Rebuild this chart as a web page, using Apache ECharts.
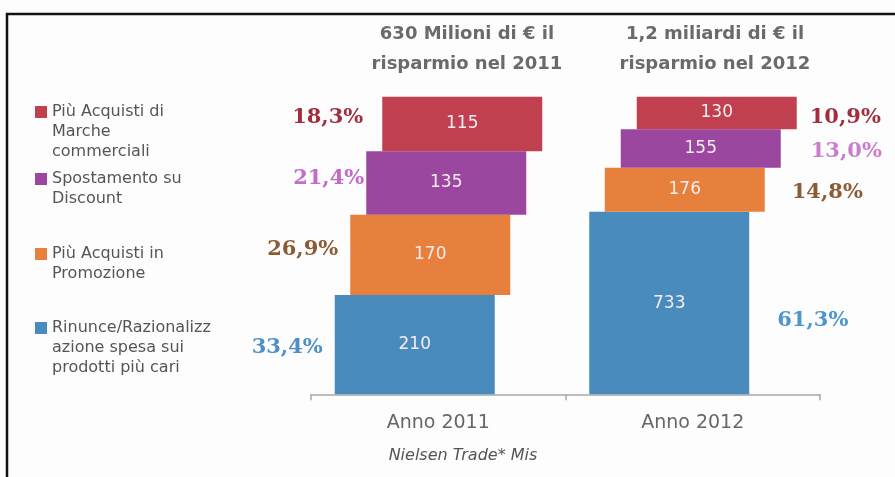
<!DOCTYPE html>
<html>
<head>
<meta charset="utf-8">
<title>Risparmio 2011-2012</title>
<script src="https://cdn.jsdelivr.net/npm/echarts@6/dist/echarts.min.js"></script>
<style>
  html, body { margin: 0; padding: 0; background: #ffffff; }
  #chart { width: 895px; height: 477px; }
</style>
</head>
<body>
<div id="chart"></div>
<script>
// Categories (x axis)
const categories = ['Anno 2011', 'Anno 2012'];

// Headline above each column
const headlines = [
  '630 Milioni di € il\nrisparmio nel 2011',
  '1,2 miliardi di € il\nrisparmio nel 2012'
];

// Series names, bottom to top of each column
const seriesNames = [
  'Rinunce/Razionalizzazione spesa sui prodotti più cari',
  'Più Acquisti in Promozione',
  'Spostamento su Discount',
  'Più Acquisti di Marche commerciali'
];

// Legend wording, wrapped as printed
const legendLabels = [
  'Rinunce/Razionalizz\nazione spesa sui\nprodotti più cari',
  'Più Acquisti in\nPromozione',
  'Spostamento su\nDiscount',
  'Più Acquisti di\nMarche\ncommerciali'
];

// Savings in millions of euro (label inside each block)
const savingsRinunce    = [210, 733];
const savingsPromozione = [170, 176];
const savingsDiscount   = [135, 155];
const savingsMarche     = [115, 130];

// Share of the yearly total, % (block height and side label)
const shareRinunce    = [33.4, 61.3];
const sharePromozione = [26.9, 14.8];
const shareDiscount   = [21.4, 13.0];
const shareMarche     = [18.3, 10.9];

const sourceNote = 'Nielsen Trade* Mis';

const savings = [savingsRinunce, savingsPromozione, savingsDiscount, savingsMarche];
const shares  = [shareRinunce, sharePromozione, shareDiscount, shareMarche];

// Styling per series (bottom to top)
const barColors   = ['#4a8bbe', '#e8803d', '#9b479f', '#c0404f'];
const shareColors = [
  ['#4b90c8', '#4d96cc'],
  ['#8b5b35', '#8b5b35'],
  ['#c46bc8', '#c97dcb'],
  ['#9f2f3f', '#9f2f3f']
];
// Horizontal shift of each block from the category centre (px)
const blockShift = [-23.5, -8, 8, 24];
const blockWidth = 160;
// Share label placement: [gap from block edge, vertical nudge] per category
const shareLabelPos = [
  [[12, 3],   [28, 17]],
  [[12, -5],  [27, 3]],
  [[2, -4],   [30, 3]],
  [[19, -6],  [13, 5]]
];

const fmtShare = v => v.toFixed(1).replace('.', ',') + '%';

function makeSeries(s) {
  const data = categories.map((c, ci) => {
    let base = 0;
    for (let k = 0; k < s; k++) base += shares[k][ci];
    return [ci, base, base + shares[s][ci], savings[s][ci], shares[s][ci]];
  });
  return {
    type: 'custom',
    name: seriesNames[s],
    color: barColors[s],
    encode: { x: 0, y: [1, 2] },
    data: data,
    renderItem: function (params, api) {
      const ci = api.value(0);
      const bottom = api.coord([ci, api.value(1)]);
      const top = api.coord([ci, api.value(2)]);
      const cx = bottom[0] + blockShift[s];
      const x0 = cx - blockWidth / 2;
      const h = bottom[1] - top[1];
      const midY = top[1] + h / 2;
      const pos = shareLabelPos[s][ci];
      const leftSide = ci === 0;
      return {
        type: 'group',
        children: [
          {
            type: 'rect',
            shape: { x: x0, y: top[1], width: blockWidth, height: h },
            style: { fill: barColors[s] }
          },
          {
            type: 'text',
            style: {
              text: String(api.value(3)),
              x: cx, y: midY,
              align: 'center', verticalAlign: 'middle',
              fill: '#f4ecef',
              font: '17px "DejaVu Sans", sans-serif'
            }
          },
          {
            type: 'text',
            style: {
              text: fmtShare(api.value(4)),
              x: leftSide ? x0 - pos[0] : x0 + blockWidth + pos[0],
              y: midY + pos[1],
              align: leftSide ? 'right' : 'left',
              verticalAlign: 'middle',
              fill: shareColors[s][ci],
              font: 'bold 21px "DejaVu Serif", serif'
            }
          }
        ]
      };
    }
  };
}

// One legend block per series so each can sit at its own height.
// Blank lines are put in front of the wording so that its first line
// lines up with the colour square (legend text is centred on the icon).
const legendTops = [278, 224, 149, 62];
const legends = seriesNames.map((name, i) => {
  const lines = legendLabels[i].split('\n').length;
  const lead = '\n'.repeat(lines - 1);
  return {
    data: [name],
    orient: 'vertical',
    left: 35,
    top: legendTops[i],
    padding: 0,
    icon: 'rect',
    itemWidth: 12,
    itemHeight: 12,
    selectedMode: false,
    formatter: () => lead + legendLabels[i],
    textStyle: {
      fontFamily: '"DejaVu Sans", sans-serif',
      fontSize: 16,
      lineHeight: 20,
      color: '#555555'
    }
  };
});

const chart = echarts.init(document.getElementById('chart'), null, { renderer: 'canvas' });

const headlineStyle = {
  fontFamily: '"DejaVu Sans", sans-serif', fontWeight: 'bold',
  fontSize: 18, lineHeight: 30, color: '#6a6a6a'
};

chart.setOption({
  backgroundColor: '#fefdfe',
  animation: false,
  title: [
    { text: headlines[0], left: 467, top: 19, padding: 0, textAlign: 'center', textStyle: headlineStyle },
    { text: headlines[1], left: 715, top: 19, padding: 0, textAlign: 'center', textStyle: headlineStyle },
    {
      text: sourceNote,
      left: 463, top: 448, padding: 0,
      textAlign: 'center',
      textStyle: { fontFamily: '"DejaVu Sans", sans-serif', fontStyle: 'italic', fontWeight: 'normal', fontSize: 16, color: '#555555' }
    }
  ],
  legend: legends,
  grid: { left: 311, right: 75, top: 96.7, bottom: 82.7, containLabel: false },
  xAxis: {
    type: 'category',
    data: categories,
    axisLine: { lineStyle: { color: '#a8a8a8', width: 1.5 } },
    axisTick: { show: true, length: 6, lineStyle: { color: '#a8a8a8', width: 1.5 } },
    axisLabel: { fontFamily: '"DejaVu Sans", sans-serif', fontSize: 19, color: '#666666', margin: 19 },
    splitLine: { show: false }
  },
  yAxis: { type: 'value', min: 0, max: 100, show: false },
  graphic: [
    {
      type: 'polyline',
      shape: { points: [[7, 477], [7, 14], [895, 14]] },
      style: { stroke: '#111111', lineWidth: 2.5, fill: null },
      silent: true
    }
  ],
  series: seriesNames.map((n, i) => makeSeries(i))
});
</script>
</body>
</html>
